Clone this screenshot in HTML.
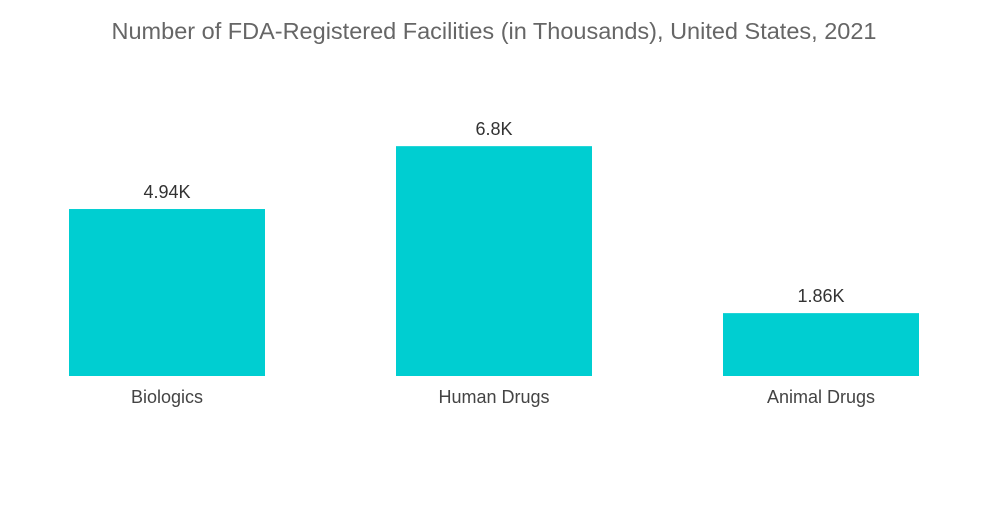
<!DOCTYPE html>
<html><head><meta charset="utf-8"><style>
body{margin:0;background:#fff;width:1000px;height:504px;overflow:hidden;font-family:"Liberation Sans",sans-serif}
</style></head><body>
<svg width="1000" height="504">
<text x="494" y="39" text-anchor="middle" font-size="23.5" fill="#666">Number of FDA-Registered Facilities (in Thousands), United States, 2021</text>
<g id="bars"></g>
</svg>
<script>
const categories=["Biologics","Human Drugs","Animal Drugs"];
const values=[4.94,6.8,1.86];
const valueLabels=["4.94K","6.8K","1.86K"];
const baseY=376, pxPerK=33.8, barW=196, x0=69, step=327;
function y(v){return baseY-v*pxPerK;}
function x(i){return x0+i*step;}
const g=document.getElementById('bars');
const ns="http://www.w3.org/2000/svg";
categories.forEach((c,i)=>{
  const r=document.createElementNS(ns,'rect');
  r.setAttribute('x',x(i));r.setAttribute('y',y(values[i]));
  r.setAttribute('width',barW);r.setAttribute('height',baseY-y(values[i]));
  r.setAttribute('fill','#00ced1');
  
  
  g.appendChild(r);
  const t=document.createElementNS(ns,'text');
  t.setAttribute('x',x(i)+barW/2);t.setAttribute('y',y(values[i])-11);
  t.setAttribute('text-anchor','middle');t.setAttribute('font-size','18');t.setAttribute('fill','#333');
  t.textContent=valueLabels[i];
  
  
  g.appendChild(t);
  const l=document.createElementNS(ns,'text');
  l.setAttribute('x',x(i)+barW/2);l.setAttribute('y',403);
  l.setAttribute('text-anchor','middle');l.setAttribute('font-size','18');l.setAttribute('fill','#444');
  l.textContent=c;
  
  
  g.appendChild(l);
});
</script>
</body></html>
